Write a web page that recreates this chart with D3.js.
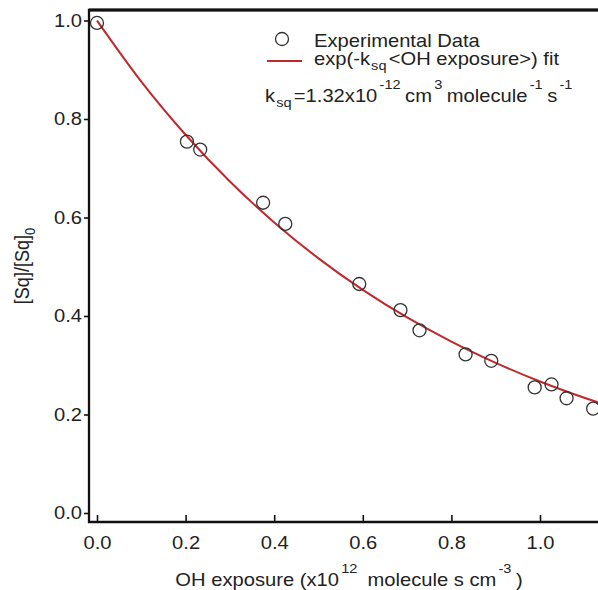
<!DOCTYPE html>
<html>
<head>
<meta charset="utf-8">
<script src="https://cdn.jsdelivr.net/npm/d3@7"></script>
<style>
  body { margin: 0; background: #fff; }
  svg { display: block; font-family: "Liberation Sans", Arial, sans-serif; }
</style>
</head>
<body>
<svg id="chart" width="598" height="590"></svg>
<script>
// measured OH exposure (x1e12) and normalised squalane signal
var exposure = [0.0, 0.203, 0.233, 0.375, 0.425, 0.592, 0.685, 0.728, 0.832, 0.89, 0.988, 1.026, 1.06, 1.12];
var ratio = [0.995, 0.754, 0.738, 0.630, 0.587, 0.465, 0.412, 0.371, 0.322, 0.309, 0.255, 0.261, 0.233, 0.212];

// fit curve
var fitX = [0.0, 0.1, 0.2, 0.3, 0.4, 0.5, 0.6, 0.7, 0.8, 0.9, 1.0, 1.1, 1.2];
var fitY = [1.0, 0.876, 0.768, 0.673, 0.590, 0.517, 0.453, 0.397, 0.348, 0.305, 0.267, 0.234, 0.205];

var xTicks = [0.0, 0.2, 0.4, 0.6, 0.8, 1.0];
var yTicks = [0.0, 0.2, 0.4, 0.6, 0.8, 1.0];

var LEFT = 89, RIGHT = 620, TOP = 10, BOTTOM = 522;
var FONT = 18, SMALL = 13;
var SX = 1.12; // the original text is a bit wide

var svg = d3.select('#chart');

var x = d3.scaleLinear().domain([0, 1]).range([97, 540]);
var y = d3.scaleLinear().domain([0, 1.0]).range([513, 20.5]);

var fmt = d3.format('.1f');

var xAxis = svg.append('g')
    .attr('transform', 'translate(0,' + BOTTOM + ')')
    .call(d3.axisBottom(x).tickValues(xTicks).tickSize(-7).tickPadding(14).tickFormat(fmt));
var yAxis = svg.append('g')
    .attr('transform', 'translate(' + LEFT + ',0)')
    .call(d3.axisLeft(y).tickValues(yTicks).tickSize(5).tickPadding(2).tickFormat(fmt));

[xAxis, yAxis].forEach(function (g) {
    g.select('.domain').remove();
    g.selectAll('line').attr('stroke', '#111').attr('stroke-width', 1.6);
    g.selectAll('text').attr('fill', '#222').style('font-size', FONT + 'px')
        .style('font-family', '"Liberation Sans", Arial, sans-serif')
        .attr('transform', 'scale(' + SX + ',1)');
});
yAxis.selectAll('text').attr('x', -7 / SX);

// frame
svg.append('path')
    .attr('d', 'M' + RIGHT + ',' + TOP + 'H' + LEFT + 'V' + BOTTOM + 'H' + RIGHT)
    .attr('fill', 'none')
    .attr('stroke', '#111')
    .attr('stroke-width', 2.3);
svg.append('line')
    .attr('x1', LEFT).attr('x2', RIGHT).attr('y1', TOP).attr('y2', TOP)
    .attr('stroke', '#111').attr('stroke-width', 2.8);

var fitLine = d3.line()
    .x(function (d) { return x(d[0]); })
    .y(function (d) { return y(d[1]); })
    .curve(d3.curveMonotoneX);

svg.append('path')
    .attr('d', fitLine(d3.zip(fitX, fitY)))
    .attr('fill', 'none')
    .attr('stroke', '#c0282d')
    .attr('stroke-width', 2);

svg.selectAll('circle.pt')
    .data(d3.zip(exposure, ratio))
    .enter()
    .append('circle')
    .classed('pt', true)
    .attr('cx', function (d) { return x(d[0]); })
    .attr('cy', function (d) { return y(d[1]); })
    .attr('r', 6.5)
    .attr('fill', 'none')
    .attr('stroke', '#333')
    .attr('stroke-width', 1.3);

// text helper: a stretched text at (px, py)
var addText = function (px, py, anchor, rot) {
    var tr = 'translate(' + px + ',' + py + ') scale(' + SX + ',1)' + (rot ? ' rotate(' + rot + ')' : '');
    return svg.append('text')
        .attr('transform', tr)
        .attr('text-anchor', anchor)
        .style('font-size', FONT + 'px')
        .attr('fill', '#222');
};
var sub = function (t, s) {
    t.append('tspan').attr('dy', 5).attr('dx', 1).style('font-size', SMALL + 'px').text(s);
    return t.append('tspan').attr('dy', -5).attr('dx', 2);
};
var sup = function (t, s, gap) {
    t.append('tspan').attr('dy', -13).attr('dx', gap ? 2 : 0).style('font-size', SMALL + 'px').text(s);
    return t.append('tspan').attr('dy', 13).attr('dx', gap ? 4 : 2);
};

// legend
svg.append('circle')
    .attr('cx', 282).attr('cy', 39).attr('r', 6.5)
    .attr('fill', 'none').attr('stroke', '#333').attr('stroke-width', 1.3);
addText(314, 47, 'start').text('Experimental Data');
svg.append('line')
    .attr('x1', 267).attr('x2', 302).attr('y1', 61).attr('y2', 61)
    .attr('stroke', '#c0282d').attr('stroke-width', 2);

var t2 = addText(314, 65, 'start');
t2.append('tspan').text('exp(-k');
sub(t2, 'sq').text('<OH exposure>) fit');

var t3 = addText(265, 102, 'start');
t3.append('tspan').text('k');
sub(t3, 'sq').text('=1.32x10');
sup(t3, '-12', true).text('cm');
sup(t3, '3', true).text('molecule');
sup(t3, '-1', true).text('s');
t3.append('tspan').attr('dy', -13).attr('dx', 2).style('font-size', SMALL + 'px').text('-1');

// axis titles
var xt = addText(349, 586, 'middle');
xt.append('tspan').text('OH exposure (x10');
sup(xt, '12', true).text(' molecule s cm');
sup(xt, '-3', true).text(')');

var yt = addText(29, 266, 'middle', -90);
yt.append('tspan').text('[Sq]/[Sq]');
yt.append('tspan').attr('dy', 5).style('font-size', SMALL + 'px').text('0');
</script>
</body>
</html>
